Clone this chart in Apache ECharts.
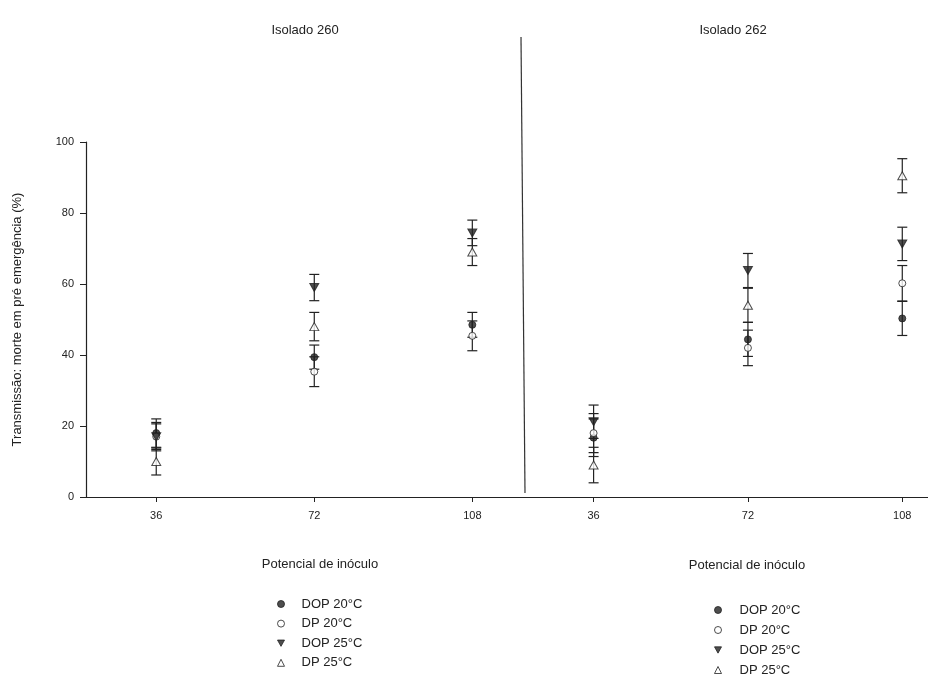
<!DOCTYPE html>
<html>
<head>
<meta charset="utf-8">
<script src="https://cdn.jsdelivr.net/npm/echarts@6/dist/echarts.min.js"></script>
<style>
  html, body { margin: 0; padding: 0; background: #fff; }
  #chart { width: 928px; height: 675px; }
</style>
</head>
<body>
<div id="chart"></div>
<script>
// inoculum potential (x) and the four treatments
const doses = [36, 72, 108]
const seriesNames = ['DOP 20°C', 'DP 20°C', 'DOP 25°C', 'DP 25°C']
const yTicks = [0, 20, 40, 60, 80, 100]

// Isolado 260: means and error (+/-)
const iso260Dop20 = [18, 39.4, 48.5]
const iso260Dop20Err = [4, 3.4, 3.5]
const iso260Dp20 = [17, 35.3, 45.4]
const iso260Dp20Err = [4, 4.2, 4.2]
const iso260Dop25 = [17, 59, 74.4]
const iso260Dop25Err = [3.6, 3.7, 3.6]
const iso260Dp25 = [10, 48, 69]
const iso260Dp25Err = [3.8, 4, 3.8]

// Isolado 262
const iso262Dop20 = [16.7, 44.4, 50.3]
const iso262Dop20Err = [5.3, 4.8, 4.8]
const iso262Dp20 = [18, 42, 60.2]
const iso262Dp20Err = [5.5, 5, 5]
const iso262Dop25 = [21.2, 63.8, 71.3]
const iso262Dop25Err = [4.7, 4.8, 4.7]
const iso262Dp25 = [9, 54, 90.5]
const iso262Dp25Err = [5, 4.8, 4.8]

const ink = '#222'
const downTri = 'path://M0,0 L10,0 L5,9 Z'
const symbols = [
  { symbol: 'circle', size: 7, itemStyle: { color: ink, borderColor: ink, borderWidth: 1 } },
  { symbol: 'circle', size: 7, itemStyle: { color: '#fff', borderColor: ink, borderWidth: 1 } },
  { symbol: downTri, size: [9, 8], itemStyle: { color: ink, borderColor: ink, borderWidth: 1 } },
  { symbol: 'triangle', size: [9, 8], itemStyle: { color: '#fff', borderColor: ink, borderWidth: 1 } }
]

const groups = [
  [[iso260Dop20, iso260Dop20Err], [iso260Dp20, iso260Dp20Err], [iso260Dop25, iso260Dop25Err], [iso260Dp25, iso260Dp25Err]],
  [[iso262Dop20, iso262Dop20Err], [iso262Dp20, iso262Dp20Err], [iso262Dop25, iso262Dop25Err], [iso262Dp25, iso262Dp25Err]]
]

function errorBar(params, api) {
  const x = api.value(0)
  const top = api.coord([x, api.value(2)])
  const bot = api.coord([x, api.value(1)])
  const w = 5
  const style = { stroke: ink, lineWidth: 1.2 }
  return {
    type: 'group',
    children: [
      { type: 'line', shape: { x1: top[0], y1: top[1], x2: bot[0], y2: bot[1] }, style: style },
      { type: 'line', shape: { x1: top[0] - w, y1: top[1], x2: top[0] + w, y2: top[1] }, style: style },
      { type: 'line', shape: { x1: bot[0] - w, y1: bot[1], x2: bot[0] + w, y2: bot[1] }, style: style }
    ]
  }
}

const series = []
groups.forEach(function (grp, gi) {
  grp.forEach(function (pair) {
    const vals = pair[0], errs = pair[1]
    series.push({
      type: 'custom',
      xAxisIndex: gi,
      yAxisIndex: gi,
      renderItem: errorBar,
      silent: true,
      z: 1,
      data: doses.map(function (d, i) { return [d, vals[i] - errs[i], vals[i] + errs[i]] })
    })
  })
  grp.forEach(function (pair, si) {
    const vals = pair[0]
    series.push({
      name: seriesNames[si],
      type: 'scatter',
      xAxisIndex: gi,
      yAxisIndex: gi,
      symbol: symbols[si].symbol,
      symbolSize: symbols[si].size,
      itemStyle: symbols[si].itemStyle,
      z: 3,
      data: doses.map(function (d, i) { return [d, vals[i]] })
    })
  })
})

const legendData = seriesNames.map(function (n, i) {
  return { name: n, icon: symbols[i].symbol, itemStyle: symbols[i].itemStyle }
})

const font = 'Liberation Sans, Arial, sans-serif'
const axisText = { color: ink, fontSize: 11, fontFamily: font }
const legendText = { color: ink, fontSize: 13, lineHeight: 14, fontFamily: font }

function xAxis(gi, min, max) {
  return {
    type: 'value', gridIndex: gi, min: min, max: max,
    splitLine: { show: false },
    axisLine: { show: true, onZero: false, lineStyle: { color: ink, width: 1.2 } },
    axisTick: { show: true, length: 5, customValues: doses, lineStyle: { color: ink } },
    axisLabel: { customValues: doses, margin: 13, ...axisText }
  }
}

let myChart = echarts.init(document.getElementById('chart'))

let option = {
  backgroundColor: '#fff',
  animation: false,
  textStyle: { fontFamily: font },
  title: [
    { text: 'Isolado 260', left: 300, top: 19, textAlign: 'center', textStyle: { fontSize: 13, fontWeight: 'normal', color: ink } },
    { text: 'Isolado 262', left: 728, top: 19, textAlign: 'center', textStyle: { fontSize: 13, fontWeight: 'normal', color: ink } },
    { text: 'Potencial de inóculo', left: 315, top: 553, textAlign: 'center', textStyle: { fontSize: 13, fontWeight: 'normal', color: ink } },
    { text: 'Potencial de inóculo', left: 742, top: 554, textAlign: 'center', textStyle: { fontSize: 13, fontWeight: 'normal', color: ink } }
  ],
  legend: [
    { data: legendData, orient: 'vertical', left: 277, top: 597, height: 100, width: 120, padding: 0,
      itemWidth: 7, itemHeight: 7, itemGap: 5.6,
      selectedMode: false, textStyle: { ...legendText, padding: [0, 0, 0, 12] } },
    { data: legendData, orient: 'vertical', left: 714, top: 603, height: 100, width: 120, padding: 0,
      itemWidth: 7, itemHeight: 7, itemGap: 6,
      selectedMode: false, textStyle: { ...legendText, padding: [0, 0, 0, 13] } }
  ],
  grid: [
    { left: 86, top: 142, width: 439, height: 355 },
    { left: 525, top: 142, width: 403, height: 355 }
  ],
  xAxis: [xAxis(0, 20, 120), xAxis(1, 20, 114)],
  yAxis: [
    {
      type: 'value', gridIndex: 0, min: 0, max: 100, interval: 20,
      name: 'Transmissão: morte em pré emergência (%)',
      nameLocation: 'middle', nameGap: 62,
      nameTextStyle: { fontSize: 13, color: ink },
      splitLine: { show: false },
      axisLine: { show: true, lineStyle: { color: ink, width: 1.2 } },
      axisTick: { show: true, length: 6, lineStyle: { color: ink } },
      axisLabel: { margin: 12, ...axisText, formatter: function (v) { return yTicks.indexOf(v) >= 0 ? String(v) : '' } }
    },
    {
      type: 'value', gridIndex: 1, min: 0, max: 100, interval: 20, show: false
    }
  ],
  graphic: [
    { type: 'line', shape: { x1: 521, y1: 37, x2: 525, y2: 493 }, style: { stroke: '#333', lineWidth: 1.2 }, z: 10 }
  ],
  series: series
}

myChart.setOption(option)
</script>
</body>
</html>
